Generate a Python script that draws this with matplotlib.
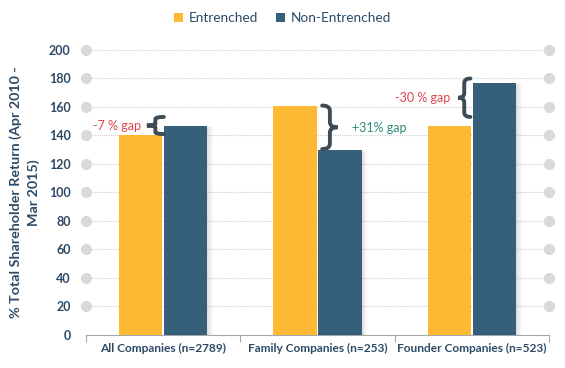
import matplotlib
matplotlib.use("Agg")
import matplotlib.pyplot as plt
from matplotlib.path import Path
from matplotlib.patches import PathPatch, Rectangle
import matplotlib.transforms as mtransforms
import numpy as np

categories = ["All Companies (n=2789)", "Family Companies (n=253)", "Founder Companies (n=523)"]
entrenched = [140, 161, 147]
non_entrenched = [147, 130, 177]
series_names = ["Entrenched", "Non-Entrenched"]
yticks = [0, 20, 40, 60, 80, 100, 120, 140, 160, 180, 200]
gap_labels = ["-7 % gap", "+31% gap", "-30 % gap"]

ORANGE = "#FDB933"
BLUE = "#365F79"
TXT = "#2C4A66"
RED = "#E0454F"
GREEN = "#2E8B7A"
BRACE = "#3E4B55"

plt.rcParams['font.family'] = ['Lato', 'DejaVu Sans']

fig = plt.figure(figsize=(5.65, 3.68), dpi=100)
ax = fig.add_axes([0.152, 0.0897, 0.820, 0.7745])

x = np.arange(len(categories))
w = 0.28
gap = 0.006
xe = x - w / 2 - gap
xn = x + w / 2 + gap

# shadows
for xi, v in zip(xn, non_entrenched):
    for k in range(6):
        ax.add_patch(Rectangle((xi + w / 2 + k * 0.006, 0), 0.006, v - 1,
                               color="black", alpha=0.12 * (1 - k / 6), lw=0, zorder=2))
ax.bar(xe, entrenched, w, color=ORANGE, zorder=3, label=series_names[0])
ax.bar(xn, non_entrenched, w, color=BLUE, zorder=3, label=series_names[1])

ax.set_xlim(-0.5, 2.5)
ax.set_ylim(0, 200)

# gridlines with dot ends
trans = mtransforms.blended_transform_factory(ax.transAxes, ax.transData)
for t in yticks[1:]:
    ax.plot([0, 1], [t, t], transform=trans, color="#D0D0D0", lw=0.8, ls=(0, (1, 1)), zorder=1)
    ax.plot([0, 1], [t, t], transform=trans, ls="none", marker="o", ms=7,
            color="#D9D9D9", clip_on=False, zorder=1)

for s in ["top", "right", "left"]:
    ax.spines[s].set_visible(False)
ax.spines["bottom"].set_color("#A6A6A6")
ax.set_yticks(yticks)
ax.set_yticklabels([str(t) for t in yticks], fontsize=9, fontweight="bold", color=TXT)
ax.tick_params(axis="y", length=0, pad=11)
ax.set_xticks([-0.5, 0.5, 1.5, 2.5], minor=False)
ax.set_xticklabels([])
ax.tick_params(axis="x", which="major", length=5, color="#A6A6A6", direction="out")
ax.set_xticks(x, minor=True)
ax.set_xticklabels(categories, minor=True, fontsize=8.6, fontweight="bold", color=TXT)
ax.tick_params(axis="x", which="minor", length=0, pad=6)

ax.set_ylabel("% Total Shareholder Return (Apr 2010 -\nMar 2015)", fontsize=10.3,
              fontweight="bold", color=TXT, labelpad=6, linespacing=1.55)

leg = fig.legend(loc="upper center", bbox_to_anchor=(0.5, 1.0), ncol=2, frameon=False,
                 fontsize=9.8, handlelength=0.7, handleheight=0.7, handletextpad=0.4,
                 columnspacing=1.3)
for t in leg.get_texts():
    t.set_color(TXT)


def brace(ax, xc, y0, y1, width, direction):
    # direction -1: tip points left ("{"), +1: tip points right ("}")
    d = direction
    ym = (y0 + y1) / 2
    xo = xc - d * width / 2  # outer (ends) x
    xi = xc + d * width / 2  # tip x
    xb = xc  # spine x
    h = (y1 - y0)
    r = h * 0.12
    verts = [
        (xo, y0), (xb, y0), (xb, y0 + r),
        (xb, ym - r),
        (xb, ym), (xi, ym),
        (xb, ym), (xb, ym + r),
        (xb, y1 - r),
        (xb, y1), (xo, y1),
    ]
    codes = [Path.MOVETO, Path.CURVE3, Path.CURVE3,
             Path.LINETO,
             Path.CURVE3, Path.CURVE3,
             Path.CURVE3, Path.CURVE3,
             Path.LINETO,
             Path.CURVE3, Path.CURVE3]
    ax.add_patch(PathPatch(Path(verts, codes), fill=False, ec=BRACE, lw=2.8,
                           capstyle="round", zorder=5, clip_on=False))


# brace 1 (All companies) tip left
brace(ax, -0.05, 141, 153, 0.11, -1)
ax.text(-0.14, 147, gap_labels[0], color=RED, fontsize=9, ha="right", va="center", zorder=6)
# brace 2 (Family) tip right
brace(ax, 1.08, 130.5, 161, 0.10, +1)
ax.text(1.22, 145, gap_labels[1], color=GREEN, fontsize=9, ha="left", va="center", zorder=6)
# brace 3 (Founder) tip left
brace(ax, 1.95, 153, 180, 0.08, -1)
ax.text(1.86, 166, gap_labels[2], color=RED, fontsize=9, ha="right", va="center", zorder=6)

fig.savefig("out.png", dpi=100)
